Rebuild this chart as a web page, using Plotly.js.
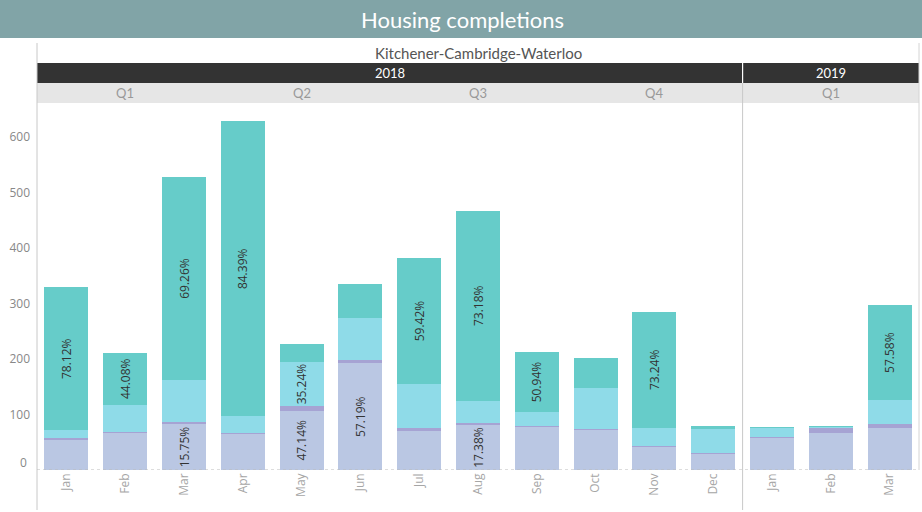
<!DOCTYPE html>
<html>
<head>
<meta charset="utf-8">
<script src="https://cdn.plot.ly/plotly-3.0.1.min.js"></script>
<style>html,body{margin:0;padding:0;background:#fff;}#chart{width:922px;height:512px;}</style>
</head>
<body>
<div id="chart"></div>
<script>
// ---- data ----
const months = ['Jan','Feb','Mar','Apr','May','Jun','Jul','Aug','Sep','Oct','Nov','Dec','Jan','Feb','Mar'];
const years  = [2018,2018,2018,2018,2018,2018,2018,2018,2018,2018,2018,2018,2019,2019,2019];
const single    = [54,66,83,64,107,192,70,81,78,72,41,29,58,67,76];
const semi      = [3,2,3,2,8,7,6,4,2,2,2,2,2,9,7];
const row       = [15,50,76,31,80,75,79,40,24,74,33,43,16,2,43];
const apartment = [257,93,366,531,32,61,227,342,109,54,209,5,2,2,171];
const singleLabels    = ['','','15.75%','','47.14%','57.19%','','17.38%','','','','','','',''];
const semiLabels      = ['','','','','','','','','','','','','','',''];
const rowLabels       = ['','','','','35.24%','','','','','','','','','',''];
const apartmentLabels = ['78.12%','44.08%','69.26%','84.39%','','','59.42%','73.18%','50.94%','','73.24%','','','','57.58%'];
const quarters = [{label:'Q1', year:2018, months:[0,1,2]},{label:'Q2', year:2018, months:[3,4,5]},
                  {label:'Q3', year:2018, months:[6,7,8]},{label:'Q4', year:2018, months:[9,10,11]},
                  {label:'Q1', year:2019, months:[12,13,14]}];
const yTicks = [100,200,300,400,500,600];

// ---- layout helpers ----
const W = 922, H = 512;
const M = {l:37, r:3, t:104, b:42};
const plotH = H - M.t - M.b, plotW = W - M.l - M.r;
const py = p => (H - M.b - p) / plotH;
const px = p => (p - M.l) / plotW;

const keys = months.map((m,i) => m + ' ' + years[i]);
const font = 'Lato, "Open Sans", "DejaVu Sans", sans-serif';
const font2 = '"Open Sans", Lato, "DejaVu Sans", sans-serif';

function seg(name, vals, labels, color){
  return {
    type:'bar', name:name, x:keys, y:vals, text:labels,
    marker:{color:color, line:{width:0}},
    textposition:'inside', insidetextanchor:'middle', textangle:-90,
    constraintext:'none',
    textfont:{family:font2, size:12, color:'#333333'},
    insidetextfont:{family:font2, size:12, color:'#333333'},
    hoverinfo:'skip'
  };
}
const traces = [
  seg('Single', single, singleLabels, '#bac7e3'),
  seg('Semi', semi, semiLabels, '#a6a3d3'),
  seg('Row', row, rowLabels, '#8fdbe8'),
  seg('Apartment', apartment, apartmentLabels, '#66ccc9')
];

const yMax = (H - M.b - M.t) / 0.555;
const nY = years.filter(y => y === 2018).length; // index where 2019 starts
const div = nY - 0.5;

const shapes = [
  // title band
  {type:'rect', xref:'paper', yref:'paper', x0:px(0), x1:px(W), y0:py(38), y1:py(0), fillcolor:'#81a4a7', line:{width:0}, layer:'below'},
  // year bands
  {type:'rect', xref:'x', yref:'paper', x0:-0.5, x1:div - 0.01, y0:py(83), y1:py(63), fillcolor:'#333333', line:{width:0}},
  {type:'rect', xref:'x', yref:'paper', x0:div + 0.01, x1:months.length - 0.5, y0:py(83), y1:py(63), fillcolor:'#333333', line:{width:0}},
  // quarter band
  {type:'rect', xref:'paper', yref:'paper', x0:0, x1:1, y0:py(103), y1:py(83), fillcolor:'#e6e6e6', line:{width:0}},
  // borders
  {type:'line', xref:'paper', yref:'paper', x0:0, x1:0, y0:py(510), y1:py(43), line:{color:'#c8c8c8', width:1}},
  {type:'line', xref:'paper', yref:'paper', x0:1, x1:1, y0:py(470), y1:py(43), line:{color:'#d4d4d4', width:1}},
  {type:'line', xref:'x', yref:'paper', x0:div, x1:div, y0:py(510), y1:py(83), line:{color:'#c8c8c8', width:1}},
  // zero line
  {type:'line', xref:'paper', yref:'y', x0:0, x1:1, y0:0, y1:0, line:{color:'#bbbbbb', width:1, dash:'dot'}}
];

const annotations = [
  {xref:'paper', yref:'paper', x:px(462), y:py(20), text:'Housing completions', showarrow:false,
   font:{family:font, size:22, color:'#ffffff'}, xanchor:'center', yanchor:'middle'},
  {xref:'paper', yref:'paper', x:0.5, y:py(53), text:'Kitchener-Cambridge-Waterloo', showarrow:false,
   font:{family:font, size:15, color:'#555555'}, xanchor:'center', yanchor:'middle'},
  {xref:'x', yref:'paper', x:(nY-1)/2, y:py(73), text:'2018', showarrow:false,
   font:{family:font, size:13, color:'#ffffff'}, xanchor:'center', yanchor:'middle'},
  {xref:'x', yref:'paper', x:(nY + months.length - 1)/2, y:py(73), text:'2019', showarrow:false,
   font:{family:font, size:13, color:'#ffffff'}, xanchor:'center', yanchor:'middle'},
  {xref:'paper', yref:'y', x:-8/plotW, y:0, yshift:8, text:'0', showarrow:false,
   font:{family:font2, size:12, color:'#888888'}, xanchor:'right', yanchor:'middle'}
];
quarters.forEach(q => {
  const c = (q.months[0] + q.months[q.months.length-1]) / 2;
  annotations.push({xref:'x', yref:'paper', x:c, y:py(93), text:q.label, showarrow:false,
    font:{family:font, size:13, color:'#999999'}, xanchor:'center', yanchor:'middle'});
});

const layout = {
  width:W, height:H, margin:M, barmode:'stack', bargap:0.252,
  showlegend:false, hovermode:false,
  paper_bgcolor:'#ffffff', plot_bgcolor:'#ffffff',
  font:{family:font},
  xaxis:{type:'category', tickvals:keys, ticktext:months, tickangle:-90,
         tickfont:{family:font2, size:12, color:'#a6a6a6'}, ticks:'', showgrid:false,
         showline:false, zeroline:false, range:[-0.5, months.length-0.5], fixedrange:true},
  yaxis:{range:[0, yMax], tickvals:yTicks, ticktext:yTicks.map(String), ticks:'',
         tickfont:{family:font2, size:12, color:'#888888'}, showgrid:false, showline:false,
         zeroline:false, ticklabelstandoff:6, fixedrange:true},
  shapes:shapes, annotations:annotations
};

Plotly.newPlot('chart', traces, layout, {displayModeBar:false, staticPlot:true});
</script>
</body>
</html>
